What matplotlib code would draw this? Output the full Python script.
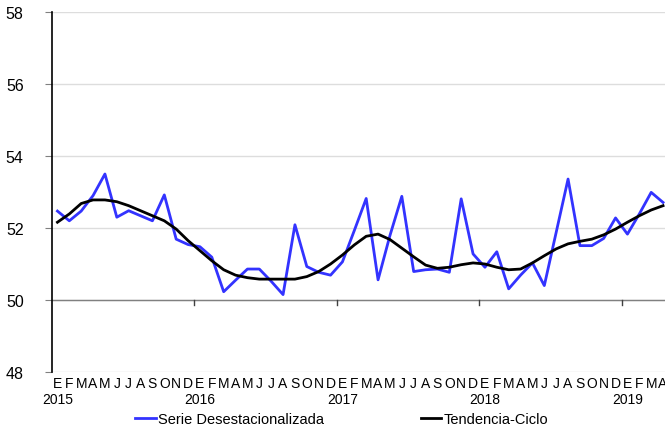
import matplotlib
matplotlib.use('Agg')
import matplotlib.pyplot as plt
import numpy as np

plt.rcParams['font.family'] = ['Liberation Sans', 'DejaVu Sans']

# monthly data, Jan 2015 .. Apr 2019
months = ['E', 'F', 'M', 'A', 'M', 'J', 'J', 'A', 'S', 'O', 'N', 'D']
years = ['2015', '2016', '2017', '2018', '2019']

serie = [52.47, 52.20, 52.47, 52.90, 53.50, 52.30, 52.48, 52.34, 52.20, 52.92, 51.69, 51.54,
         51.48, 51.19, 50.23, 50.55, 50.86, 50.86, 50.52, 50.15, 52.09, 50.93, 50.77, 50.69,
         51.06, 51.93, 52.82, 50.56, 51.79, 52.88, 50.79, 50.84, 50.86, 50.77, 52.81, 51.28,
         50.91, 51.34, 50.31, 50.69, 51.03, 50.40, 51.88, 53.36, 51.51, 51.51, 51.71, 52.28,
         51.83, 52.39, 52.99, 52.71]

tendencia = [52.16, 52.39, 52.68, 52.78, 52.78, 52.73, 52.62, 52.48, 52.34, 52.20, 51.97, 51.65,
             51.37, 51.09, 50.84, 50.69, 50.62, 50.58, 50.58, 50.58, 50.58, 50.65, 50.79, 51.00,
             51.25, 51.53, 51.77, 51.83, 51.68, 51.44, 51.20, 50.97, 50.88, 50.91, 50.98, 51.03,
             51.00, 50.91, 50.84, 50.86, 51.03, 51.23, 51.42, 51.56, 51.63, 51.69, 51.81, 51.97,
             52.16, 52.34, 52.50, 52.62]

n = len(serie)
x = np.arange(n)
labels = []
for i in range(n):
    m = months[i % 12]
    if i % 12 == 0:
        m = m + '\n' + years[i // 12]
    labels.append(m)

fig = plt.figure(figsize=(6.65, 4.31), dpi=100)
ax = fig.add_axes([51.5/665, 1 - 373/431, 1 - 51.5/665, 360/431])

ax.plot(x, serie, color='#3333ff', linewidth=2.0, label='Serie Desestacionalizada', zorder=3)
ax.plot(x, tendencia, color='black', linewidth=2.0, label='Tendencia-Ciclo', zorder=4)

ax.set_ylim(48, 58)
ax.set_xlim(-0.5, (665 - 51.5)/11.875 - 0.5)
ax.set_yticks(np.arange(48, 59, 2))
for yv in np.arange(48, 59, 2):
    ax.axhline(yv, color='#dddddd', linewidth=1.0, zorder=1)
ax.axhline(50, color='#808080', linewidth=1.0, zorder=2)
for k in range(1, len(years)):
    ax.axvline(12*k - 0.5, ymin=0.2 - 0.013, ymax=0.2, color='#404040', linewidth=1.0, zorder=2)

ax.set_xticks(x)
ax.set_xticklabels(labels, fontsize=10, linespacing=1.2)
ax.tick_params(axis='x', length=0, pad=3)
ax.tick_params(axis='y', length=5, color='#808080', labelsize=11.5, pad=15)

for s in ['top', 'right', 'bottom']:
    ax.spines[s].set_visible(False)
ax.spines['left'].set_linewidth(1.2)

fig.legend(loc='lower left', bbox_to_anchor=(122/665, -0.022), ncol=2, frameon=False,
           fontsize=10.5, handlelength=1.4, handletextpad=0.2, columnspacing=6.6)

fig.savefig('out.png', dpi=100)
